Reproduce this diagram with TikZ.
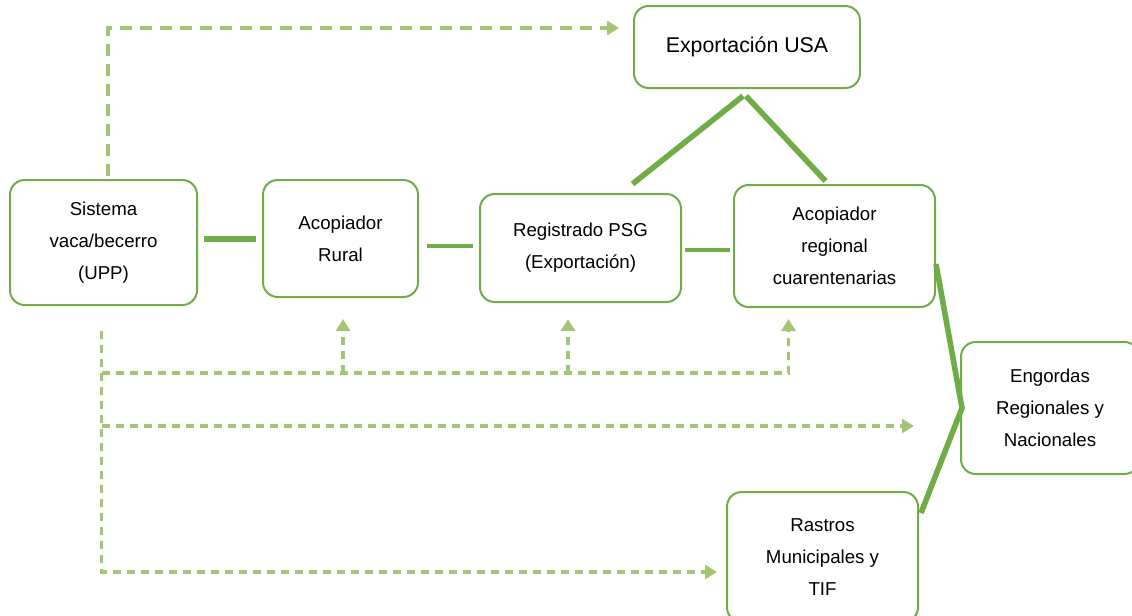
\documentclass[tikz,border=0pt]{standalone}
\usepackage{fontspec}
\setmainfont{Liberation Sans}
\usetikzlibrary{arrows.meta,calc}
\definecolor{boxgreen}{RGB}{112,173,71}
\definecolor{flowgreen}{RGB}{165,197,118}

\begin{document}
\begin{tikzpicture}[x=0.75pt,y=-0.75pt,
  box/.style={draw=boxgreen, line width=1.5pt, rounded corners=11pt, align=center,
    inner sep=0pt, font=\fontsize{14}{24}\selectfont},
  link/.style={draw=boxgreen, line width=4.2pt},
  flow/.style={draw=flowgreen, line width=2.8pt, dash pattern=on 6pt off 4.5pt,
    -{Triangle[length=9pt,width=10.5pt]}}]
\useasboundingbox (0,0) rectangle (1132,615);

% Boxes
\node[box, minimum width=140.25pt, minimum height=93.75pt] (upp) at (103.5,242.5) {Sistema\\vaca/becerro\\(UPP)};
\node[box, minimum width=116.25pt, minimum height=87.75pt] (rural) at (340.5,238.5) {Acopiador\\Rural};
\node[box, minimum width=150.75pt, minimum height=81pt] (psg) at (580.5,248) {Registrado PSG\\(Exportación)};
\node[box, minimum width=150.75pt, minimum height=91.5pt] (regional) at (834.5,246) {Acopiador\\regional\\cuarentenarias};
\node[box, minimum width=169.5pt, minimum height=61.5pt, font=\fontsize{16}{20}\selectfont] (usa) at (747,47) {Exportación USA};
\node[box, minimum width=133.5pt, minimum height=99pt] (engordas) at (1050,408) {Engordas\\Regionales y\\Nacionales};
\node[box, minimum width=143.25pt, minimum height=97.5pt] (rastros) at (822.5,557) {Rastros\\Municipales y\\TIF};

% Solid links
\coordinate (l1) at ($(upp.east)+(0,-3.5)$);
\coordinate (l2) at ($(rural.east)+(0,7.5)$);
\coordinate (l3) at ($(psg.east)+(0,2)$);
\draw[link, line width=5pt, shorten <=4.5pt, shorten >=4.5pt] (l1) -- (l1 -| rural.west);
\draw[link, line width=3.5pt, shorten <=6pt, shorten >=4.5pt] (l2) -- (l2 -| psg.west);
\draw[link, line width=3.5pt, shorten <=2.25pt, shorten >=2.25pt] (l3) -- (l3 -| regional.west);
\coordinate (apex) at ($(usa.south)+(-4,7)$);
\draw[link] ($(psg.north)+(52,-9)$) -- (apex);
\draw[link] ($(apex)+(3,0)$) -- ($(regional.north)+(-9,-3)$);
\draw[link] ($(regional.east)+(0,18)$) -- ($(engordas.west)+(2,0)$) -- ($(rastros.north east)+(2,22)$);

% Dashed flows
\draw[flow, dash pattern=on 9pt off 6pt] ($(upp.north)+(4.5,-3)$) |- ($(usa.west)+(-14,-19)$);
\coordinate (trunk) at ($(upp.south)+(-2,25)$);
\coordinate (busA) at ($(trunk)+(0,42)$);
\coordinate (busB) at ($(trunk)+(0,95)$);
\draw[flow] (trunk) |- ($(rastros.west)+(-9,15)$);
\draw[flow] (busA) -| ($(regional.south)+(-46,11)$);
\foreach \n/\dx/\dy in {rural/2.5/21, psg/-12.5/16}
  \draw[flow] ($(busA -| \n.south)+(\dx,0)$) -- ($(\n.south)+(\dx,\dy)$);
\draw[flow] (busB) -- ($(busB -| engordas.west)+(-46,0)$);
\end{tikzpicture}
\end{document}
